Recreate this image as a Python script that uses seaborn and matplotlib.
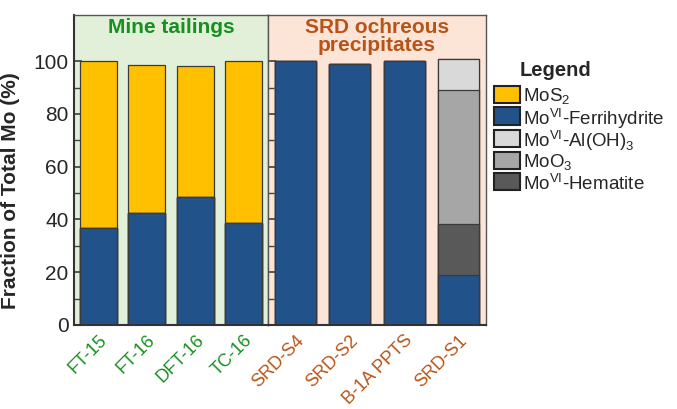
import numpy as np
import pandas as pd
import matplotlib.pyplot as plt
from matplotlib.patches import Rectangle
import seaborn as sns

# Werte (%)
samples = ['FT-15', 'FT-16', 'DFT-16', 'TC-16', 'SRD-S4', 'SRD-S2', 'B-1A PPTS', 'SRD-S1']
groups = ['mine'] * 4 + ['srd'] * 4
ferrihydrite = [36.9, 42.3, 48.4, 38.6, 100.0, 99.1, 100.0, 19.1]
hematite = [0, 0, 0, 0, 0, 0, 0, 19.0]
moo3 = [0, 0, 0, 0, 0, 0, 0, 50.9]
aloh3 = [0, 0, 0, 0, 0, 0, 0, 11.9]
mos2 = [63.1, 56.3, 49.7, 61.5, 0, 0, 0, 0]

legend_keys = ['mos2', 'ferri', 'aloh3', 'moo3', 'hem']
legend_labels = ['MoS$_2$', 'Mo$^{\\mathrm{VI}}$-Ferrihydrite', 'Mo$^{\\mathrm{VI}}$-Al(OH)$_3$',
                 'MoO$_3$', 'Mo$^{\\mathrm{VI}}$-Hematite']

farben = {'mos2': '#FFC000', 'ferri': '#22528A', 'aloh3': '#D9D9D9',
          'moo3': '#A6A6A6', 'hem': '#595959'}
gruen = '#17901F'
braun = '#B85418'

sns.set_theme(style='white')
plt.rcParams['font.family'] = ['Liberation Sans', 'DejaVu Sans']
plt.rcParams['mathtext.fontset'] = 'custom'
plt.rcParams['mathtext.rm'] = 'Liberation Sans'
plt.rcParams['ytick.direction'] = 'in'

df = pd.DataFrame({'sample': samples, 'group': groups, 'ferri': ferrihydrite,
                   'hem': hematite, 'moo3': moo3, 'aloh3': aloh3, 'mos2': mos2})
df['c1'] = df['ferri']
df['c2'] = df['c1'] + df['hem']
df['c3'] = df['c2'] + df['moo3']
df['c4'] = df['c3'] + df['aloh3']
df['c5'] = df['c4'] + df['mos2']

W, H = 677, 409
fig = plt.figure(figsize=(6.77, 4.09), dpi=100)
ax1 = fig.add_axes([74 / W, 1 - 325 / H, 194 / W, 310 / H])
ax2 = fig.add_axes([268 / W, 1 - 325 / H, 218 / W, 310 / H], sharey=ax1)

# gestapelte Balken: kumulierte Summen von oben nach unten zeichnen
schichten = [('c5', 'mos2'), ('c4', 'aloh3'), ('c3', 'moo3'), ('c2', 'hem'), ('c1', 'ferri')]
for ax, grp, bg, col in [(ax1, 'mine', '#E2F0D9', gruen), (ax2, 'srd', '#FCE4D6', braun)]:
    ax.set_facecolor(bg)
    sub = df[df['group'] == grp]
    for spalte, f in schichten:
        sns.barplot(data=sub, x='sample', y=spalte, color=farben[f], width=0.76,
                    saturation=1, edgecolor='#3a3a3a', linewidth=0.9, ax=ax)
    ax.set_xlim(-0.5, 3.5)
    ax.set_xlabel('')
    ax.set_ylabel('')
    for lab in ax.get_xticklabels():
        lab.set_color(col)
        lab.set_rotation(45)
        lab.set_ha('right')
        lab.set_rotation_mode('anchor')
        lab.set_fontsize(13)
    ax.tick_params(axis='x', length=0, pad=5)
    for s in ax.spines.values():
        s.set_color('#555555')
        s.set_linewidth(1)
    ax.spines['bottom'].set_color('#333333')
    ax.spines['bottom'].set_linewidth(1.5)

ax1.set_ylim(0, 117.5)
ax1.set_yticks(np.arange(0, 101, 20))
ax1.set_yticks(np.arange(0, 101, 10), minor=True)
ax1.tick_params(axis='y', which='both', direction='in', left=True, labelsize=15, pad=4,
                color='#444444')
ax1.tick_params(axis='y', which='major', length=6)
ax1.tick_params(axis='y', which='minor', length=4)
ax1.spines['left'].set_color('#333333')
ax1.spines['left'].set_linewidth(1.5)
ax1.set_ylabel('Fraction of Total Mo (%)', fontsize=15, fontweight='bold')
ax1.yaxis.set_label_coords(-0.28, 0.435)
ax2.tick_params(axis='y', which='both', direction='in', left=True, labelleft=False,
                color='#444444')
ax2.tick_params(axis='y', which='major', length=6)
ax2.tick_params(axis='y', which='minor', length=4)

ax1.text(0.5, 0.99, 'Mine tailings', transform=ax1.transAxes, ha='center', va='top',
         color=gruen, fontsize=15, fontweight='bold')
ax2.text(0.5, 0.99, 'SRD ochreous\nprecipitates', transform=ax2.transAxes, ha='center', va='top',
         color=braun, fontsize=15, fontweight='bold', linespacing=0.92)

# Legende von Hand, damit die Zeilenabstände gleich bleiben
fig.text(520 / W, 1 - 70 / H, 'Legend', fontsize=14.5, fontweight='bold', va='center', ha='left')
for i, (k, lab) in enumerate(zip(legend_keys, legend_labels)):
    yc = 94 + 22 * i
    fig.add_artist(Rectangle((494 / W, 1 - (yc + 8.5) / H), 26 / W, 17 / H,
                             facecolor=farben[k], edgecolor='#222222', linewidth=1.5,
                             transform=fig.transFigure))
    fig.text(523 / W, 1 - yc / H, lab, fontsize=13.5, va='center_baseline', ha='left')

fig.savefig('out.png', dpi=100)
